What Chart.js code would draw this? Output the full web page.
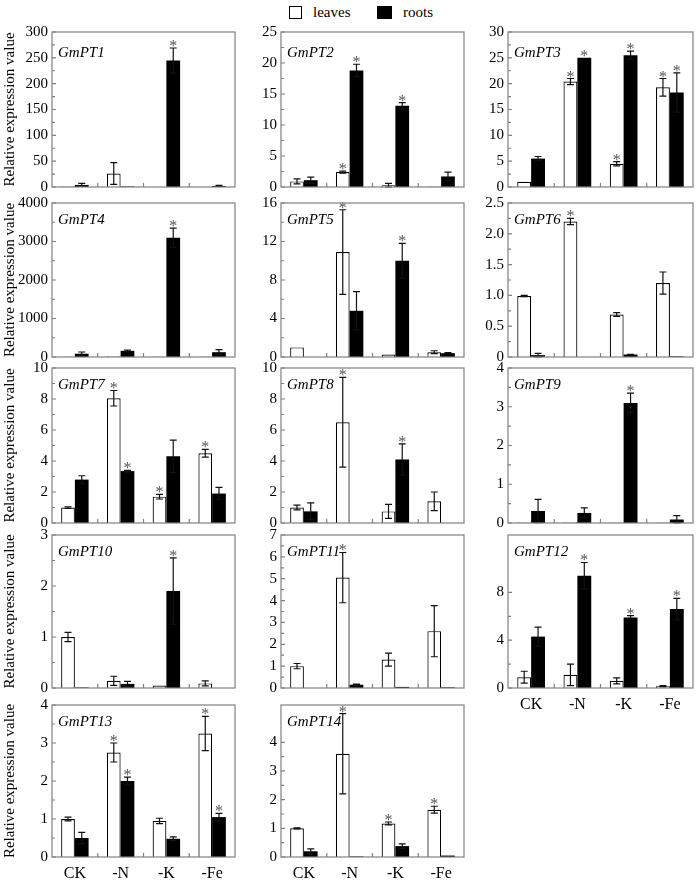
<!DOCTYPE html>
<html><head><meta charset="utf-8">
<script src="https://cdn.jsdelivr.net/npm/chart.js@4.4.0/dist/chart.umd.min.js"></script>
<style>
html,body{margin:0;padding:0;background:#fff}
body{width:697px;height:880px;position:relative;overflow:hidden;font-family:"Liberation Serif",serif}
canvas{position:absolute;left:0;top:0}
.lg{position:absolute;font:15px "Liberation Serif",serif;line-height:15px;color:#000}
</style></head>
<body>
<div style="position:absolute;left:289px;top:6px;width:13px;height:13px;border:1.5px solid #000;box-sizing:border-box;background:#fff"></div>
<span class="lg" style="left:313px;top:5px">leaves</span>
<div style="position:absolute;left:377px;top:6px;width:15px;height:13px;background:#000"></div>
<span class="lg" style="left:403px;top:5px">roots</span>
<script>
const categories = ['CK', '-N', '-K', '-Fe'];
const genes = ['GmPT1','GmPT2','GmPT3','GmPT4','GmPT5','GmPT6','GmPT7','GmPT8','GmPT9','GmPT10','GmPT11','GmPT12','GmPT13','GmPT14'];
const leavesMean = [
  [1, 26, 0.5, 0.5],
  [0.9, 2.4, 0.3, 0.1],
  [1.0, 20.4, 4.5, 19.3],
  [5, 20, 5, 5],
  [1.0, 10.9, 0.25, 0.5],
  [0.99, 2.2, 0.69, 1.2],
  [1.0, 8.05, 1.7, 4.5],
  [1.0, 6.5, 0.75, 1.4],
  [0.01, 0.02, 0.01, 0.01],
  [1.0, 0.14, 0.05, 0.09],
  [1.0, 5.05, 1.3, 2.6],
  [0.9, 1.1, 0.6, 0.15],
  [1.0, 2.75, 0.95, 3.25],
  [1.0, 3.6, 1.17, 1.65]
];
const leavesErr = [
  [0, 21, 0, 0],
  [0.4, 0.15, 0.3, 0],
  [0, 0.6, 0.4, 1.7],
  [0, 0, 0, 0],
  [0, 4.4, 0, 0.15],
  [0.01, 0.05, 0.03, 0.18],
  [0.05, 0.5, 0.15, 0.25],
  [0.15, 2.9, 0.45, 0.6],
  [0, 0, 0, 0],
  [0.09, 0.09, 0, 0.05],
  [0.12, 1.15, 0.3, 1.17],
  [0.5, 0.9, 0.25, 0.05],
  [0.05, 0.25, 0.07, 0.45],
  [0.02, 1.4, 0.05, 0.12]
];
const rootsMean = [
  [4, 1, 245, 2],
  [1.1, 18.8, 13.1, 1.7],
  [5.5, 25.0, 25.5, 18.3],
  [85, 160, 3100, 125],
  [0, 4.8, 10.0, 0.4],
  [0.03, 0, 0.04, 0.01],
  [2.8, 3.35, 4.3, 1.9],
  [0.75, 0, 4.1, 0],
  [0.31, 0.26, 3.1, 0.09],
  [0.01, 0.08, 1.9, 0],
  [0, 0.15, 0.05, 0.03],
  [4.3, 9.4, 5.9, 6.6],
  [0.5, 2.0, 0.48, 1.05],
  [0.2, 0.02, 0.38, 0.05]
];
const rootsErr = [
  [3, 0, 24, 1],
  [0.5, 1.0, 0.5, 0.7],
  [0.4, 0, 0.8, 3.8],
  [45, 20, 250, 65],
  [0, 2.0, 1.8, 0.05],
  [0.03, 0, 0.005, 0],
  [0.25, 0.05, 1.05, 0.4],
  [0.55, 0, 1.0, 0],
  [0.3, 0.13, 0.25, 0.1],
  [0, 0.05, 0.65, 0],
  [0, 0.03, 0, 0],
  [0.8, 1.1, 0.15, 0.9],
  [0.15, 0.1, 0.05, 0.1],
  [0.08, 0, 0.08, 0]
];
const leavesSig = [
  [0,0,0,0],[0,1,0,0],[0,1,1,1],[0,0,0,0],[0,1,0,0],[0,1,0,0],[0,1,1,1],
  [0,1,0,0],[0,0,0,0],[0,0,0,0],[0,1,0,0],[0,0,0,0],[0,1,0,1],[0,1,1,1]
];
const rootsSig = [
  [0,0,1,0],[0,1,1,0],[0,1,1,1],[0,0,1,0],[0,0,1,0],[0,0,0,0],[0,1,0,0],
  [0,0,1,0],[0,0,1,0],[0,0,1,0],[0,0,0,0],[0,1,1,1],[0,1,0,1],[0,0,0,0]
];
const yMax = [300, 25, 30, 4000, 16, 2.5, 10, 10, 4, 3, 7, 12.8, 4, 5.3];
const yStep = [50, 5, 5, 1000, 4, 0.5, 2, 2, 1, 1, 1, 4, 1, 1];
const yAxisTitle = 'Relative expression value';

// layout (pixels)
const W = 697, H = 880;
const colLeft = [52, 281, 508], colRight = [235, 464, 693];
const rowTop = [32, 203, 368, 535, 705], rowBottom = [187, 357, 523, 688, 857];
const FONT = '"Liberation Serif", "Times New Roman", serif';

const decor = {
  id: 'decor',
  afterDatasetsDraw(chart) {
    const ctx = chart.ctx, y = chart.scales.y;
    ctx.save();
    chart.data.datasets.forEach((ds, di) => {
      const meta = chart.getDatasetMeta(di);
      meta.data.forEach((bar, i) => {
        const v = ds.data[i], e = ds.err[i];
        let top = y.getPixelForValue(v);
        if (e > 0) {
          const t = y.getPixelForValue(v + e), b = y.getPixelForValue(Math.max(0, v - e));
          ctx.strokeStyle = '#111'; ctx.lineWidth = 1.2;
          ctx.beginPath();
          ctx.moveTo(bar.x, t); ctx.lineTo(bar.x, b);
          ctx.moveTo(bar.x - 3.5, t); ctx.lineTo(bar.x + 3.5, t);
          ctx.moveTo(bar.x - 3.5, b); ctx.lineTo(bar.x + 3.5, b);
          ctx.stroke();
          top = t;
        }
        if (ds.sig[i]) {
          ctx.fillStyle = '#555';
          ctx.font = '16px ' + FONT;
          ctx.textAlign = 'center'; ctx.textBaseline = 'alphabetic';
          ctx.fillText('*', bar.x, top + 3);
        }
      });
    });
    ctx.restore();
  },
  afterDraw(chart, args, opts) {
    const ctx = chart.ctx, a = chart.chartArea, x = chart.scales.x, y = chart.scales.y;
    ctx.save();
    ctx.strokeStyle = '#808080'; ctx.lineWidth = 1.2;
    ctx.strokeRect(a.left, a.top, a.right - a.left, a.bottom - a.top);
    ctx.beginPath();
    const tv = y.ticks.map(t => t.value);
    tv.forEach((v, k) => {
      const p = y.getPixelForValue(v);
      ctx.moveTo(a.left, p); ctx.lineTo(a.left + 4, p);
      if (k > 0) {
        const m = y.getPixelForValue((v + tv[k - 1]) / 2);
        ctx.moveTo(a.left, m); ctx.lineTo(a.left + 3, m);
      }
    });
    for (let i = 1; i < categories.length; i++) {
      const p = (x.getPixelForValue(i - 1) + x.getPixelForValue(i)) / 2;
      ctx.moveTo(p, a.bottom); ctx.lineTo(p, a.bottom - 4);
    }
    ctx.stroke();
    ctx.fillStyle = '#000';
    ctx.font = 'italic 15px ' + FONT;
    ctx.textAlign = 'left'; ctx.textBaseline = 'alphabetic';
    ctx.fillText(opts.gene, a.left + 6, a.top + opts.dy);
    ctx.restore();
  }
};

genes.forEach((gene, gi) => {
  const row = Math.floor(gi / 3), col = gi % 3;
  const showX = (gi >= 11);
  const yW = col === 0 ? 52 : 45;
  const xH = showX ? 26 : 0;
  const step = yStep[gi];
  const cv = document.createElement('canvas');
  cv.width = W; cv.height = H;
  cv.style.width = W + 'px'; cv.style.height = H + 'px';
  document.body.appendChild(cv);
  new Chart(cv, {
    type: 'bar',
    data: {
      labels: categories,
      datasets: [
        { label: 'leaves', data: leavesMean[gi], err: leavesErr[gi], sig: leavesSig[gi],
          backgroundColor: '#fff', borderColor: '#000', borderWidth: 1.2 },
        { label: 'roots', data: rootsMean[gi], err: rootsErr[gi], sig: rootsSig[gi],
          backgroundColor: '#000', borderColor: '#000', borderWidth: 0 }
      ]
    },
    options: {
      responsive: false, animation: false, devicePixelRatio: 1,
      datasets: { bar: { categoryPercentage: 0.6, barPercentage: 1.0 } },
      layout: { padding: { left: colLeft[col] - yW, top: rowTop[row], right: W - colRight[col], bottom: H - rowBottom[row] - xH } },
      plugins: {
        legend: { display: false }, tooltip: { enabled: false }, title: { display: false },
        decor: { gene: gene, dy: row === 0 ? 25 : 21 }
      },
      scales: {
        x: {
          display: showX, offset: true,
          grid: { display: false, drawTicks: false }, border: { display: false },
          ticks: { font: { family: FONT, size: 16 }, color: '#000', padding: 7, maxRotation: 0, autoSkip: false },
          afterFit(s) { s.height = xH; s.paddingLeft = 0; s.paddingRight = 0; }
        },
        y: {
          min: 0, max: yMax[gi],
          grid: { display: false, drawTicks: false }, border: { display: false },
          ticks: {
            stepSize: step, font: { family: FONT, size: 15 }, color: '#000', padding: 4,
            callback: (v) => (v === 0 ? '0' : (step < 1 ? Number(v).toFixed(1) : String(v)))
          },
          afterBuildTicks(s) {
            s.ticks = s.ticks.filter(t => Math.abs(t.value / step - Math.round(t.value / step)) < 1e-6);
          },
          title: { display: col === 0, text: yAxisTitle, font: { family: FONT, size: 15 }, color: '#000', padding: { top: 1, bottom: 0 } },
          afterFit(s) { s.width = yW; s.paddingTop = 0; s.paddingBottom = 0; }
        }
      }
    },
    plugins: [decor]
  });
});
</script>
</body></html>
